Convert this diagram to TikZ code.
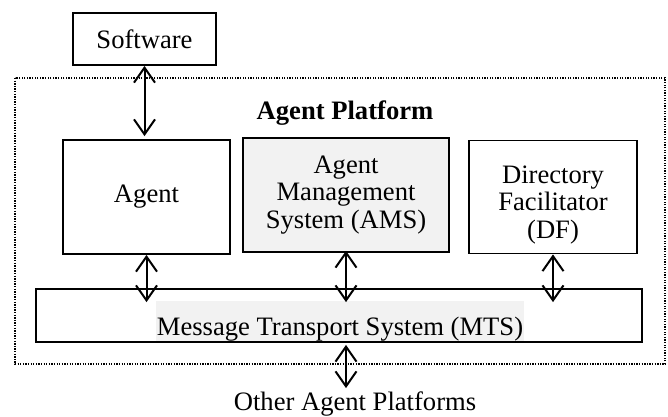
\documentclass[tikz,border=0pt]{standalone}
\usepackage{fontspec}
\setmainfont{Liberation Serif}
\usetikzlibrary{arrows.meta}
\definecolor{shade}{RGB}{242,242,242}
\begin{document}
\begin{tikzpicture}[x=1pt,y=-1pt,
  txt/.style={font=\fontsize{26.6}{27.5}\selectfont},
  box/.style={draw,line width=1.8pt,align=center,inner sep=0pt,txt},
  link/.style={line width=2pt,
    {Straight Barb[length=15pt,width=21pt]}-{Straight Barb[length=15pt,width=21pt]}},
  ]
\useasboundingbox (0,0) rectangle (668,416);

% platform boundary
\draw[line width=1.3pt,dash pattern=on 1.3pt off 1.3pt] (15,78) rectangle (665,364);

\node[box,minimum width=143pt,minimum height=52pt] (sw) at (144.5,39) {Software};
\node[txt,font=\fontsize{26.6}{27.5}\selectfont\bfseries,anchor=base] (title) at (345,119) {Agent Platform};

\node[box,minimum width=167pt,minimum height=114pt] (agent) at (146.5,197) {Agent};
\node[box,fill=shade,minimum width=206pt,minimum height=114pt] (ams) at (346,195)
  {Agent\\Management\\System (AMS)};
\node[box,minimum width=168pt,minimum height=113pt] (df) at (553,197) {};
\node[txt,align=center,inner sep=0pt] (dftext) at (553,205)
  {Directory\\Facilitator\\(DF)};

\node[box,minimum width=606pt,minimum height=53pt] (mts) at (339,315.5) {};
\node[txt,fill=shade,inner xsep=0.5pt,inner ysep=0pt,text height=34pt,text depth=6pt]
  (mtslabel) at (340,321) {Message Transport System (MTS)};

\node[txt,inner sep=0pt,anchor=base] (other) at (355,410) {Other Agent Platforms};

% connectors
\draw[link,shorten >=3pt] (sw.south) -- (sw.south |- agent.north);
\draw[link,shorten >=-14pt] (agent.south) -- (agent.south |- mts.north);
\draw[link,shorten <=-2pt,shorten >=-14pt] (ams.south) -- (ams.south |- mts.north);
\draw[link,shorten >=-14pt] (df.south) -- (df.south |- mts.north);
\draw[link,shorten <=2pt,shorten >=3pt] (ams.south |- mts.south) -- (ams.south |- other.north);
\end{tikzpicture}
\end{document}
